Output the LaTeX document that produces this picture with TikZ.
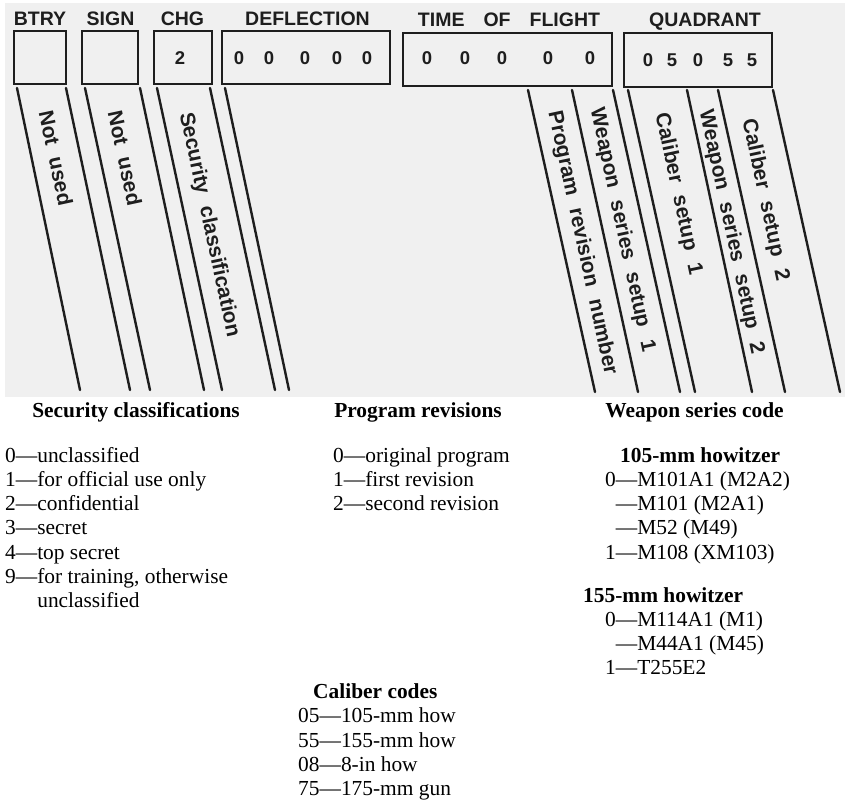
\documentclass[tikz,border=0pt]{standalone}
\usepackage{fontspec}
\setmainfont{Liberation Serif}
\newfontfamily\lettering[WordSpace=2.2]{Liberation Sans}
\definecolor{inkc}{RGB}{30,30,30}
\definecolor{scanbg}{RGB}{240,240,240}
\begin{document}
\begin{tikzpicture}[x=1pt,y=-1pt]
\tikzset{
  scanline/.style={draw=inkc, line width=2.4pt, line cap=round},
  fieldbox/.style={draw=inkc, line width=2.6pt, inner sep=0pt},
  hdr/.style={font=\lettering\bfseries\fontsize{19.5}{20}\selectfont, text=inkc, inner sep=0pt, anchor=base},
  dig/.style={font=\lettering\bfseries\fontsize{18.5}{20}\selectfont, text=inkc, inner sep=0pt, anchor=base},
  band/.style={font=\lettering\bfseries\fontsize{21}{22}\selectfont, text=inkc, rotate=-77.9, inner sep=0pt},
  body/.style={font=\fontsize{21.4}{24}\selectfont, anchor=base west, inner sep=0pt},
  bhead/.style={font=\bfseries\fontsize{21.4}{24}\selectfont, anchor=base, inner sep=0pt},
  bheadw/.style={font=\bfseries\fontsize{21.4}{24}\selectfont, anchor=base west, inner sep=0pt}
}
\useasboundingbox (0,0) rectangle (845,802);
\fill[scanbg] (5,3) rectangle (845,397);

% field boxes
\node[fieldbox, minimum width=52pt, minimum height=53pt] (btry) at (40,57.5) {};
\node[fieldbox, minimum width=56pt, minimum height=53pt] (sign) at (110,57.5) {};
\node[fieldbox, minimum width=58pt, minimum height=53pt] (chg) at (183,57.5) {};
\node[fieldbox, minimum width=168pt, minimum height=53pt] (defl) at (306,57.5) {};
\node[fieldbox, minimum width=209pt, minimum height=53pt] (tof) at (507.5,59.5) {};
\node[fieldbox, minimum width=148pt, minimum height=54pt] (quad) at (698,60) {};

% headers
\node[hdr] (hbtry) at (40,26) {BTRY};
\node[hdr] (hsign) at (110.5,26) {SIGN};
\node[hdr] (hchg) at (182.5,26) {CHG};
\node[hdr] (hdefl) at (307.5,26) {DEFLECTION};
\node[hdr] (htof) at (509,27) {TIME\hspace{19pt}OF\hspace{19pt}FLIGHT};
\node[hdr] (hquad) at (705,27) {QUADRANT};

% digits
\node[dig] (c1) at (180,64.5) {2};
\node[dig] (d1) at (239,64.5) {0};
\node[dig] (d2) at (269,64.5) {0};
\node[dig] (d3) at (305,64.5) {0};
\node[dig] (d4) at (337,64.5) {0};
\node[dig] (d5) at (367,64.5) {0};
\node[dig] (t1) at (427,65) {0};
\node[dig] (t2) at (465,65) {0};
\node[dig] (t3) at (502,65) {0};
\node[dig] (t4) at (548,65) {0};
\node[dig] (t5) at (590,65) {0};
\node[dig] (q1) at (648,67) {0};
\node[dig] (q2) at (672,67) {5};
\node[dig] (q3) at (698,67) {0};
\node[dig] (q4) at (728,67) {5};
\node[dig] (q5) at (752,67) {5};

% slanted lines, left group
\draw[scanline] (17,88) -- (80,390);
\draw[scanline] (66,88) -- (130,390);
\draw[scanline] (85,88) -- (150,390);
\draw[scanline] (140,88) -- (204,390);
\draw[scanline] (157,88) -- (222,390);
\draw[scanline] (210,88) -- (275,390);
\draw[scanline] (225,88) -- (289,390);
% slanted lines, right group
\draw[scanline] (528,90) -- (595,392);
\draw[scanline] (572,90) -- (638,392);
\draw[scanline] (613,90) -- (680,392);
\draw[scanline] (628,90) -- (695,392);
\draw[scanline] (687,90) -- (752,392);
\draw[scanline] (718,90) -- (785,392);
\draw[scanline] (773,90) -- (840,392);

% band labels
\node[band] (n1) at (56,158) {Not used};
\node[band] (n2) at (125,158) {Not used};
\node[band] (n3) at (209,225) {Security classification};
\node[band] (r1) at (582,243) {Program revision number};
\node[band] (r2) at (622,230) {Weapon series setup 1};
\node[band] (r3) at (678,194) {Caliber setup 1};
\node[band] (r4) at (731,232) {Weapon series setup 2};
\node[band] (r5) at (765,200) {Caliber setup 2};

% lower legends
\node[bhead] (hsec) at (136,417) {Security classifications};
\node[bhead] (hprog) at (418,417) {Program revisions};
\node[bhead] (hweap) at (694.5,417) {Weapon series code};

\node[body] (s0) at (5,462) {0—unclassified};
\node[body] (s1) at (5,486.3) {1—for official use only};
\node[body] (s2) at (5,510.6) {2—confidential};
\node[body] (s3) at (5,534.9) {3—secret};
\node[body] (s4) at (5,559.2) {4—top secret};
\node[body] (s9) at (5,583.5) {9—for training, otherwise};
\node[body] (s9b) at (5,607.8) {\phantom{9—}unclassified};

\node[body] (p0) at (333,462) {0—original program};
\node[body] (p1) at (333,486.3) {1—first revision};
\node[body] (p2) at (333,510.6) {2—second revision};

\node[bheadw] (h105) at (620,462) {105-mm howitzer};
\node[body] (w1) at (605,486.3) {0—M101A1 (M2A2)};
\node[body] (w2) at (605,510.6) {\phantom{0}—M101 (M2A1)};
\node[body] (w3) at (605,534.9) {\phantom{0}—M52 (M49)};
\node[body] (w4) at (605,559.2) {1—M108 (XM103)};
\node[bheadw] (h155) at (583,602) {155-mm howitzer};
\node[body] (w5) at (605,626) {0—M114A1 (M1)};
\node[body] (w6) at (605,650) {\phantom{0}—M44A1 (M45)};
\node[body] (w7) at (605,674) {1—T255E2};

\node[bheadw] (hcal) at (313,698) {Caliber codes};
\node[body] (k1) at (298,722.5) {05—105-mm how};
\node[body] (k2) at (298,747) {55—155-mm how};
\node[body] (k3) at (298,771) {08—8-in how};
\node[body] (k4) at (298,795.5) {75—175-mm gun};
\end{tikzpicture}
\end{document}
